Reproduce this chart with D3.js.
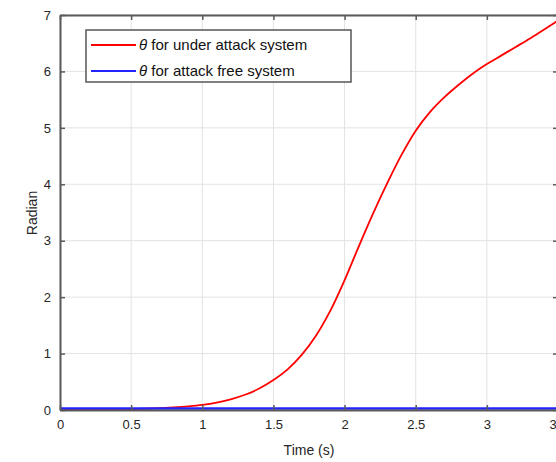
<!DOCTYPE html>
<html>
<head>
<meta charset="utf-8">
<script src="https://d3js.org/d3.v7.min.js"></script>
<style>
  body { margin: 0; background: #fff; }
  svg { display: block; font-family: "Liberation Sans", Arial, sans-serif; }
</style>
</head>
<body>
<script>
// time samples (s)
const time = [0, 0.1, 0.2, 0.3, 0.4, 0.5, 0.6, 0.7, 0.8, 0.9, 1.0, 1.1, 1.2, 1.3, 1.4, 1.5, 1.6, 1.7,
              1.8, 1.9, 2.0, 2.1, 2.2, 2.3, 2.4, 2.5, 2.6, 2.7, 2.8, 2.9, 3.0, 3.1, 3.2, 3.3, 3.4, 3.5];
// theta, under attack system
const thetaAttack = [0, 0, 0.002, 0.004, 0.008, 0.014, 0.022, 0.033, 0.047, 0.065, 0.09, 0.13, 0.19, 0.27,
                     0.38, 0.53, 0.72, 0.98, 1.32, 1.76, 2.3, 2.9, 3.48, 4.02, 4.52, 4.95, 5.28, 5.54, 5.76,
                     5.96, 6.13, 6.28, 6.43, 6.58, 6.74, 6.9];
// theta, attack free system
const thetaFree = time.map(() => 0.025);

const xTicks = [0, 0.5, 1, 1.5, 2, 2.5, 3, 3.5];
const yTicks = [0, 1, 2, 3, 4, 5, 6, 7];
const legendLabels = ["for under attack system", "for attack free system"];
const colors = ["#ff0000", "#2323ff"];

const width = 556, height = 462;
const margin = { top: 15, right: -2, bottom: 52, left: 60 };
const innerW = width - margin.left - margin.right;
const innerH = height - margin.top - margin.bottom;

const svg = d3.select("body").append("svg")
    .attr("width", width)
    .attr("height", height)
    .style("overflow", "hidden");

const g = svg.append("g").attr("transform", `translate(${margin.left},${margin.top})`);

const x = d3.scaleLinear().domain([0, 3.5]).range([0, innerW]);
const y = d3.scaleLinear().domain([0, 7]).range([innerH, 0]);

// grid
g.append("g").selectAll("line").data(xTicks).enter().append("line")
    .attr("x1", d => x(d)).attr("x2", d => x(d))
    .attr("y1", 0).attr("y2", innerH)
    .attr("stroke", "#e3e3e3").attr("stroke-width", 1);
g.append("g").selectAll("line").data(yTicks).enter().append("line")
    .attr("y1", d => y(d)).attr("y2", d => y(d))
    .attr("x1", 0).attr("x2", innerW)
    .attr("stroke", "#e3e3e3").attr("stroke-width", 1);

// lines
const line = d3.line().curve(d3.curveCatmullRom.alpha(0.5));
g.append("path")
    .datum(time.map((t, i) => [x(t), y(thetaAttack[i])]))
    .attr("d", line)
    .attr("fill", "none")
    .attr("stroke", colors[0])
    .attr("stroke-width", 1.8);
g.append("path")
    .datum(time.map((t, i) => [x(t), y(thetaFree[i])]))
    .attr("d", line)
    .attr("fill", "none")
    .attr("stroke", colors[1])
    .attr("stroke-width", 2.5);

// axes (ticks inside, matlab style)
const axisColor = "#5a5a5a";
const fmt = d3.format("~g");
const xAxis = d3.axisBottom(x).tickValues(xTicks).tickSizeInner(-5).tickSizeOuter(0).tickPadding(10)
    .tickFormat(fmt);
const yAxis = d3.axisLeft(y).tickValues(yTicks).tickSizeInner(-5).tickSizeOuter(0).tickPadding(9)
    .tickFormat(fmt);

g.append("g").attr("transform", `translate(0,${innerH})`).call(xAxis);
g.append("g").call(yAxis);
g.append("g").call(d3.axisTop(x).tickValues(xTicks).tickSizeInner(-5).tickSizeOuter(0).tickFormat(""));
g.append("g").attr("transform", `translate(${innerW},0)`)
    .call(d3.axisRight(y).tickValues(yTicks).tickSizeInner(-5).tickSizeOuter(0).tickFormat(""));

g.selectAll(".domain").attr("stroke", axisColor).attr("stroke-width", 2);
g.selectAll(".tick line").attr("stroke", axisColor).attr("stroke-width", 1.5);
g.selectAll(".tick text").attr("fill", "#262626").attr("font-size", 13)
    .attr("font-family", "Liberation Sans, Arial, sans-serif");

// axis labels
svg.append("text")
    .attr("x", 309).attr("y", 455)
    .attr("text-anchor", "middle")
    .attr("font-size", 14).attr("fill", "#262626")
    .text("Time (s)");
svg.append("text")
    .attr("transform", "translate(37,213) rotate(-90)")
    .attr("text-anchor", "middle")
    .attr("font-size", 14).attr("fill", "#262626")
    .text("Radian");

// legend
const legend = svg.append("g").attr("transform", "translate(86,30)");
legend.append("rect")
    .attr("width", 265).attr("height", 52)
    .attr("fill", "#fff").attr("stroke", "#555").attr("stroke-width", 1.5);
const items = legend.selectAll("g.item").data(legendLabels).enter().append("g")
    .attr("class", "item")
    .attr("transform", (d, i) => `translate(0,${15 + i * 26})`);
items.append("line")
    .attr("x1", 5).attr("x2", 50)
    .attr("stroke", (d, i) => colors[i]).attr("stroke-width", 2);
const txt = items.append("text")
    .attr("x", 53).attr("y", 5)
    .attr("font-size", 15).attr("fill", "#111");
txt.append("tspan").attr("font-style", "italic").text("θ");
txt.append("tspan").text(d => " " + d);
</script>
</body>
</html>
